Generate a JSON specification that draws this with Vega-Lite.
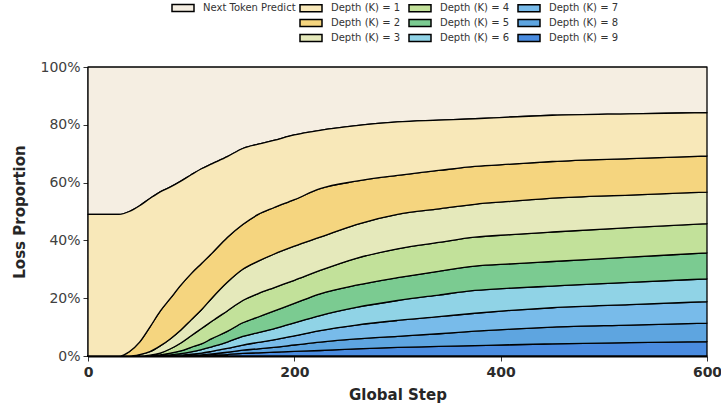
{
"$schema": "https://vega.github.io/schema/vega-lite/v6.json",
"width": 619, "height": 289,
"autosize": {"type": "none"},
"padding": {"left": 88, "top": 67, "right": 14, "bottom": 56},
"background": "white",
"config": {
  "font": "DejaVu Sans",
  "view": {"stroke": null},
  "legend": {"layout": {"top": {"anchor": "middle", "margin": 9}}}
},
"datasets": {"d": [
{"s":0,"o":0,"k":"Depth (K) = 9","v":0},{"s":0,"o":1,"k":"Depth (K) = 8","v":0},{"s":0,"o":2,"k":"Depth (K) = 7","v":0},{"s":0,"o":3,"k":"Depth (K) = 6","v":0},{"s":0,"o":4,"k":"Depth (K) = 5","v":0},{"s":0,"o":5,"k":"Depth (K) = 4","v":0},{"s":0,"o":6,"k":"Depth (K) = 3","v":0},{"s":0,"o":7,"k":"Depth (K) = 2","v":0},{"s":0,"o":8,"k":"Depth (K) = 1","v":49},{"s":0,"o":9,"k":"Next Token Predict","v":51},
{"s":30,"o":0,"k":"Depth (K) = 9","v":0},{"s":30,"o":1,"k":"Depth (K) = 8","v":0},{"s":30,"o":2,"k":"Depth (K) = 7","v":0},{"s":30,"o":3,"k":"Depth (K) = 6","v":0},{"s":30,"o":4,"k":"Depth (K) = 5","v":0},{"s":30,"o":5,"k":"Depth (K) = 4","v":0},{"s":30,"o":6,"k":"Depth (K) = 3","v":0},{"s":30,"o":7,"k":"Depth (K) = 2","v":0},{"s":30,"o":8,"k":"Depth (K) = 1","v":49},{"s":30,"o":9,"k":"Next Token Predict","v":51},
{"s":40,"o":0,"k":"Depth (K) = 9","v":0},{"s":40,"o":1,"k":"Depth (K) = 8","v":0},{"s":40,"o":2,"k":"Depth (K) = 7","v":0},{"s":40,"o":3,"k":"Depth (K) = 6","v":0},{"s":40,"o":4,"k":"Depth (K) = 5","v":0},{"s":40,"o":5,"k":"Depth (K) = 4","v":0},{"s":40,"o":6,"k":"Depth (K) = 3","v":0},{"s":40,"o":7,"k":"Depth (K) = 2","v":1.5},{"s":40,"o":8,"k":"Depth (K) = 1","v":48.5},{"s":40,"o":9,"k":"Next Token Predict","v":50},
{"s":50,"o":0,"k":"Depth (K) = 9","v":0},{"s":50,"o":1,"k":"Depth (K) = 8","v":0},{"s":50,"o":2,"k":"Depth (K) = 7","v":0},{"s":50,"o":3,"k":"Depth (K) = 6","v":0},{"s":50,"o":4,"k":"Depth (K) = 5","v":0},{"s":50,"o":5,"k":"Depth (K) = 4","v":0},{"s":50,"o":6,"k":"Depth (K) = 3","v":0.5},{"s":50,"o":7,"k":"Depth (K) = 2","v":4.3},{"s":50,"o":8,"k":"Depth (K) = 1","v":47.2},{"s":50,"o":9,"k":"Next Token Predict","v":48},
{"s":60,"o":0,"k":"Depth (K) = 9","v":0},{"s":60,"o":1,"k":"Depth (K) = 8","v":0},{"s":60,"o":2,"k":"Depth (K) = 7","v":0},{"s":60,"o":3,"k":"Depth (K) = 6","v":0},{"s":60,"o":4,"k":"Depth (K) = 5","v":0.1},{"s":60,"o":5,"k":"Depth (K) = 4","v":0.2},{"s":60,"o":6,"k":"Depth (K) = 3","v":1.2},{"s":60,"o":7,"k":"Depth (K) = 2","v":8.5},{"s":60,"o":8,"k":"Depth (K) = 1","v":44.5},{"s":60,"o":9,"k":"Next Token Predict","v":45.5},
{"s":70,"o":0,"k":"Depth (K) = 9","v":0},{"s":70,"o":1,"k":"Depth (K) = 8","v":0},{"s":70,"o":2,"k":"Depth (K) = 7","v":0},{"s":70,"o":3,"k":"Depth (K) = 6","v":0.1},{"s":70,"o":4,"k":"Depth (K) = 5","v":0.3},{"s":70,"o":5,"k":"Depth (K) = 4","v":0.6},{"s":70,"o":6,"k":"Depth (K) = 3","v":2.5},{"s":70,"o":7,"k":"Depth (K) = 2","v":12},{"s":70,"o":8,"k":"Depth (K) = 1","v":41.3},{"s":70,"o":9,"k":"Next Token Predict","v":43.2},
{"s":80,"o":0,"k":"Depth (K) = 9","v":0},{"s":80,"o":1,"k":"Depth (K) = 8","v":0},{"s":80,"o":2,"k":"Depth (K) = 7","v":0.1},{"s":80,"o":3,"k":"Depth (K) = 6","v":0.3},{"s":80,"o":4,"k":"Depth (K) = 5","v":0.6},{"s":80,"o":5,"k":"Depth (K) = 4","v":1.5},{"s":80,"o":6,"k":"Depth (K) = 3","v":3.5},{"s":80,"o":7,"k":"Depth (K) = 2","v":14},{"s":80,"o":8,"k":"Depth (K) = 1","v":38.5},{"s":80,"o":9,"k":"Next Token Predict","v":41.5},
{"s":90,"o":0,"k":"Depth (K) = 9","v":0},{"s":90,"o":1,"k":"Depth (K) = 8","v":0.1},{"s":90,"o":2,"k":"Depth (K) = 7","v":0.2},{"s":90,"o":3,"k":"Depth (K) = 6","v":0.5},{"s":90,"o":4,"k":"Depth (K) = 5","v":1.0},{"s":90,"o":5,"k":"Depth (K) = 4","v":2.7},{"s":90,"o":6,"k":"Depth (K) = 3","v":4.5},{"s":90,"o":7,"k":"Depth (K) = 2","v":15.5},{"s":90,"o":8,"k":"Depth (K) = 1","v":36},{"s":90,"o":9,"k":"Next Token Predict","v":39.5},
{"s":100,"o":0,"k":"Depth (K) = 9","v":0.05},{"s":100,"o":1,"k":"Depth (K) = 8","v":0.15},{"s":100,"o":2,"k":"Depth (K) = 7","v":0.4},{"s":100,"o":3,"k":"Depth (K) = 6","v":0.8},{"s":100,"o":4,"k":"Depth (K) = 5","v":1.6},{"s":100,"o":5,"k":"Depth (K) = 4","v":4.0},{"s":100,"o":6,"k":"Depth (K) = 3","v":5.5},{"s":100,"o":7,"k":"Depth (K) = 2","v":16},{"s":100,"o":8,"k":"Depth (K) = 1","v":34.2},{"s":100,"o":9,"k":"Next Token Predict","v":37.3},
{"s":110,"o":0,"k":"Depth (K) = 9","v":0.1},{"s":110,"o":1,"k":"Depth (K) = 8","v":0.3},{"s":110,"o":2,"k":"Depth (K) = 7","v":0.6},{"s":110,"o":3,"k":"Depth (K) = 6","v":1.2},{"s":110,"o":4,"k":"Depth (K) = 5","v":2.0},{"s":110,"o":5,"k":"Depth (K) = 4","v":5.3},{"s":110,"o":6,"k":"Depth (K) = 3","v":6.5},{"s":110,"o":7,"k":"Depth (K) = 2","v":16},{"s":110,"o":8,"k":"Depth (K) = 1","v":32.8},{"s":110,"o":9,"k":"Next Token Predict","v":35.2},
{"s":120,"o":0,"k":"Depth (K) = 9","v":0.3},{"s":120,"o":1,"k":"Depth (K) = 8","v":0.4},{"s":120,"o":2,"k":"Depth (K) = 7","v":0.9},{"s":120,"o":3,"k":"Depth (K) = 6","v":1.6},{"s":120,"o":4,"k":"Depth (K) = 5","v":2.8},{"s":120,"o":5,"k":"Depth (K) = 4","v":6},{"s":120,"o":6,"k":"Depth (K) = 3","v":8},{"s":120,"o":7,"k":"Depth (K) = 2","v":15.5},{"s":120,"o":8,"k":"Depth (K) = 1","v":31},{"s":120,"o":9,"k":"Next Token Predict","v":33.5},
{"s":135,"o":0,"k":"Depth (K) = 9","v":0.5},{"s":135,"o":1,"k":"Depth (K) = 8","v":0.8},{"s":135,"o":2,"k":"Depth (K) = 7","v":1.3},{"s":135,"o":3,"k":"Depth (K) = 6","v":2.2},{"s":135,"o":4,"k":"Depth (K) = 5","v":3.7},{"s":135,"o":5,"k":"Depth (K) = 4","v":7.1},{"s":135,"o":6,"k":"Depth (K) = 3","v":9.9},{"s":135,"o":7,"k":"Depth (K) = 2","v":15.5},{"s":135,"o":8,"k":"Depth (K) = 1","v":28},{"s":135,"o":9,"k":"Next Token Predict","v":31},
{"s":150,"o":0,"k":"Depth (K) = 9","v":0.9},{"s":150,"o":1,"k":"Depth (K) = 8","v":1.1},{"s":150,"o":2,"k":"Depth (K) = 7","v":1.8},{"s":150,"o":3,"k":"Depth (K) = 6","v":3.0},{"s":150,"o":4,"k":"Depth (K) = 5","v":4.7},{"s":150,"o":5,"k":"Depth (K) = 4","v":7.7},{"s":150,"o":6,"k":"Depth (K) = 3","v":10.8},{"s":150,"o":7,"k":"Depth (K) = 2","v":15.5},{"s":150,"o":8,"k":"Depth (K) = 1","v":26.3},{"s":150,"o":9,"k":"Next Token Predict","v":28.2},
{"s":165,"o":0,"k":"Depth (K) = 9","v":1.1},{"s":165,"o":1,"k":"Depth (K) = 8","v":1.4},{"s":165,"o":2,"k":"Depth (K) = 7","v":2.2},{"s":165,"o":3,"k":"Depth (K) = 6","v":3.4},{"s":165,"o":4,"k":"Depth (K) = 5","v":5.4},{"s":165,"o":5,"k":"Depth (K) = 4","v":8.1},{"s":165,"o":6,"k":"Depth (K) = 3","v":11.2},{"s":165,"o":7,"k":"Depth (K) = 2","v":16.2},{"s":165,"o":8,"k":"Depth (K) = 1","v":24.3},{"s":165,"o":9,"k":"Next Token Predict","v":26.7},
{"s":180,"o":0,"k":"Depth (K) = 9","v":1.3},{"s":180,"o":1,"k":"Depth (K) = 8","v":1.7},{"s":180,"o":2,"k":"Depth (K) = 7","v":2.6},{"s":180,"o":3,"k":"Depth (K) = 6","v":3.8},{"s":180,"o":4,"k":"Depth (K) = 5","v":6.1},{"s":180,"o":5,"k":"Depth (K) = 4","v":8.1},{"s":180,"o":6,"k":"Depth (K) = 3","v":11.6},{"s":180,"o":7,"k":"Depth (K) = 2","v":16.1},{"s":180,"o":8,"k":"Depth (K) = 1","v":23.3},{"s":180,"o":9,"k":"Next Token Predict","v":25.4},
{"s":200,"o":0,"k":"Depth (K) = 9","v":1.6},{"s":200,"o":1,"k":"Depth (K) = 8","v":2.2},{"s":200,"o":2,"k":"Depth (K) = 7","v":3.2},{"s":200,"o":3,"k":"Depth (K) = 6","v":4.5},{"s":200,"o":4,"k":"Depth (K) = 5","v":6.7},{"s":200,"o":5,"k":"Depth (K) = 4","v":8.0},{"s":200,"o":6,"k":"Depth (K) = 3","v":11.8},{"s":200,"o":7,"k":"Depth (K) = 2","v":16.1},{"s":200,"o":8,"k":"Depth (K) = 1","v":22.4},{"s":200,"o":9,"k":"Next Token Predict","v":23.5},
{"s":225,"o":0,"k":"Depth (K) = 9","v":1.9},{"s":225,"o":1,"k":"Depth (K) = 8","v":2.9},{"s":225,"o":2,"k":"Depth (K) = 7","v":4.0},{"s":225,"o":3,"k":"Depth (K) = 6","v":5.2},{"s":225,"o":4,"k":"Depth (K) = 5","v":7.5},{"s":225,"o":5,"k":"Depth (K) = 4","v":8.1},{"s":225,"o":6,"k":"Depth (K) = 3","v":11.5},{"s":225,"o":7,"k":"Depth (K) = 2","v":16.8},{"s":225,"o":8,"k":"Depth (K) = 1","v":20.2},{"s":225,"o":9,"k":"Next Token Predict","v":21.9},
{"s":260,"o":0,"k":"Depth (K) = 9","v":2.5},{"s":260,"o":1,"k":"Depth (K) = 8","v":3.4},{"s":260,"o":2,"k":"Depth (K) = 7","v":4.8},{"s":260,"o":3,"k":"Depth (K) = 6","v":6.1},{"s":260,"o":4,"k":"Depth (K) = 5","v":7.7},{"s":260,"o":5,"k":"Depth (K) = 4","v":9.3},{"s":260,"o":6,"k":"Depth (K) = 3","v":11.7},{"s":260,"o":7,"k":"Depth (K) = 2","v":15},{"s":260,"o":8,"k":"Depth (K) = 1","v":19.2},{"s":260,"o":9,"k":"Next Token Predict","v":20.3},
{"s":300,"o":0,"k":"Depth (K) = 9","v":3.0},{"s":300,"o":1,"k":"Depth (K) = 8","v":3.8},{"s":300,"o":2,"k":"Depth (K) = 7","v":5.5},{"s":300,"o":3,"k":"Depth (K) = 6","v":6.9},{"s":300,"o":4,"k":"Depth (K) = 5","v":7.9},{"s":300,"o":5,"k":"Depth (K) = 4","v":10},{"s":300,"o":6,"k":"Depth (K) = 3","v":11.9},{"s":300,"o":7,"k":"Depth (K) = 2","v":13.5},{"s":300,"o":8,"k":"Depth (K) = 1","v":18.5},{"s":300,"o":9,"k":"Next Token Predict","v":19},
{"s":340,"o":0,"k":"Depth (K) = 9","v":3.3},{"s":340,"o":1,"k":"Depth (K) = 8","v":4.4},{"s":340,"o":2,"k":"Depth (K) = 7","v":5.9},{"s":340,"o":3,"k":"Depth (K) = 6","v":7.5},{"s":340,"o":4,"k":"Depth (K) = 5","v":8.2},{"s":340,"o":5,"k":"Depth (K) = 4","v":10},{"s":340,"o":6,"k":"Depth (K) = 3","v":11.6},{"s":340,"o":7,"k":"Depth (K) = 2","v":13.3},{"s":340,"o":8,"k":"Depth (K) = 1","v":17.4},{"s":340,"o":9,"k":"Next Token Predict","v":18.4},
{"s":375,"o":0,"k":"Depth (K) = 9","v":3.6},{"s":375,"o":1,"k":"Depth (K) = 8","v":5.0},{"s":375,"o":2,"k":"Depth (K) = 7","v":6.2},{"s":375,"o":3,"k":"Depth (K) = 6","v":7.9},{"s":375,"o":4,"k":"Depth (K) = 5","v":8.4},{"s":375,"o":5,"k":"Depth (K) = 4","v":10},{"s":375,"o":6,"k":"Depth (K) = 3","v":11.4},{"s":375,"o":7,"k":"Depth (K) = 2","v":13.1},{"s":375,"o":8,"k":"Depth (K) = 1","v":16.5},{"s":375,"o":9,"k":"Next Token Predict","v":17.9},
{"s":410,"o":0,"k":"Depth (K) = 9","v":3.9},{"s":410,"o":1,"k":"Depth (K) = 8","v":5.4},{"s":410,"o":2,"k":"Depth (K) = 7","v":6.5},{"s":410,"o":3,"k":"Depth (K) = 6","v":7.7},{"s":410,"o":4,"k":"Depth (K) = 5","v":8.4},{"s":410,"o":5,"k":"Depth (K) = 4","v":10.1},{"s":410,"o":6,"k":"Depth (K) = 3","v":11.5},{"s":410,"o":7,"k":"Depth (K) = 2","v":12.9},{"s":410,"o":8,"k":"Depth (K) = 1","v":16.3},{"s":410,"o":9,"k":"Next Token Predict","v":17.3},
{"s":450,"o":0,"k":"Depth (K) = 9","v":4.2},{"s":450,"o":1,"k":"Depth (K) = 8","v":5.8},{"s":450,"o":2,"k":"Depth (K) = 7","v":6.7},{"s":450,"o":3,"k":"Depth (K) = 6","v":7.5},{"s":450,"o":4,"k":"Depth (K) = 5","v":8.5},{"s":450,"o":5,"k":"Depth (K) = 4","v":10.2},{"s":450,"o":6,"k":"Depth (K) = 3","v":11.7},{"s":450,"o":7,"k":"Depth (K) = 2","v":12.7},{"s":450,"o":8,"k":"Depth (K) = 1","v":16.0},{"s":450,"o":9,"k":"Next Token Predict","v":16.7},
{"s":525,"o":0,"k":"Depth (K) = 9","v":4.6},{"s":525,"o":1,"k":"Depth (K) = 8","v":6.1},{"s":525,"o":2,"k":"Depth (K) = 7","v":7.1},{"s":525,"o":3,"k":"Depth (K) = 6","v":7.7},{"s":525,"o":4,"k":"Depth (K) = 5","v":8.7},{"s":525,"o":5,"k":"Depth (K) = 4","v":10.2},{"s":525,"o":6,"k":"Depth (K) = 3","v":11.3},{"s":525,"o":7,"k":"Depth (K) = 2","v":12.6},{"s":525,"o":8,"k":"Depth (K) = 1","v":15.5},{"s":525,"o":9,"k":"Next Token Predict","v":16.2},
{"s":600,"o":0,"k":"Depth (K) = 9","v":5.0},{"s":600,"o":1,"k":"Depth (K) = 8","v":6.4},{"s":600,"o":2,"k":"Depth (K) = 7","v":7.4},{"s":600,"o":3,"k":"Depth (K) = 6","v":7.9},{"s":600,"o":4,"k":"Depth (K) = 5","v":9.0},{"s":600,"o":5,"k":"Depth (K) = 4","v":10.1},{"s":600,"o":6,"k":"Depth (K) = 3","v":10.9},{"s":600,"o":7,"k":"Depth (K) = 2","v":12.5},{"s":600,"o":8,"k":"Depth (K) = 1","v":15.0},{"s":600,"o":9,"k":"Next Token Predict","v":15.8}
]},
"data": {"name": "d"},
"transform": [
  {"stack": "v", "groupby": ["s"], "sort": [{"field": "o", "order": "ascending"}], "offset": "normalize", "as": ["y0", "y1"]}
],
"encoding": {
  "x": {"field": "s", "type": "quantitative", "scale": {"domain": [0, 600], "nice": false, "zero": false},
    "axis": {"title": "Global Step", "values": [0, 200, 400, 600], "grid": false, "labelFlush": false,
      "labelFontSize": 14, "labelFontWeight": "bold", "labelColor": "#2b2b2b", "labelPadding": 4,
      "tickSize": 5, "tickColor": "#333333", "tickWidth": 1, "domainColor": "#000000", "domainWidth": 2,
      "titleFontSize": 15, "titleFontWeight": "bold", "titleColor": "#262626", "titlePadding": 8}},
  "y": {"field": "y0", "type": "quantitative", "scale": {"domain": [0, 1], "nice": false},
    "axis": {"title": "Loss Proportion", "values": [0, 0.2, 0.4, 0.6, 0.8, 1], "format": ".0%", "grid": false,
      "labelFontSize": 14, "labelColor": "#404040", "labelPadding": 3,
      "tickSize": 5, "tickColor": "#333333", "tickWidth": 1, "domainColor": "#000000", "domainWidth": 2,
      "titleFontSize": 15, "titleFontWeight": "bold", "titleColor": "#262626", "titlePadding": 12}},
  "y2": {"field": "y1"}
},
"layer": [
  {"transform": [{"filter": "datum.o == 9"}],
   "mark": {"type": "area", "interpolate": "monotone", "stroke": "#000000", "strokeWidth": 1.3, "strokeJoin": "round", "opacity": 1, "fillOpacity": 1},
   "encoding": {"fill": {"field": "k", "type": "nominal",
     "scale": {"domain": ["Next Token Predict"], "range": ["#f5eee2"]},
     "legend": {"orient": "top", "title": null, "offset": 21, "rowPadding": 1, "symbolType": "M-2.2,-0.7H2.2V0.7H-2.2Z", "symbolSize": 100,
       "symbolStrokeColor": "#000000", "symbolStrokeWidth": 1.5, "symbolOpacity": 1, "labelFontSize": 10, "labelColor": "#333333", "labelOffset": 14}}}},
  {"transform": [{"filter": "datum.o < 9"}],
   "mark": {"type": "area", "interpolate": "monotone", "stroke": "#000000", "strokeWidth": 1.3, "strokeJoin": "round", "opacity": 1, "fillOpacity": 1},
   "encoding": {"fill": {"field": "k", "type": "nominal",
     "scale": {"domain": ["Depth (K) = 1", "Depth (K) = 4", "Depth (K) = 7", "Depth (K) = 2", "Depth (K) = 5", "Depth (K) = 8", "Depth (K) = 3", "Depth (K) = 6", "Depth (K) = 9"],
               "range": ["#f8e8b9", "#c2e19a", "#78bbea", "#f5d57f", "#7bcb91", "#5ea5e0", "#e5e9bb", "#90d3e6", "#4a8ce0"]},
     "legend": {"orient": "top", "title": null, "offset": 21, "columns": 3, "columnPadding": 5, "rowPadding": 1,
       "symbolType": "M-2.2,-0.7H2.2V0.7H-2.2Z", "symbolSize": 100,
       "symbolStrokeColor": "#000000", "symbolStrokeWidth": 1.5, "symbolOpacity": 1, "labelFontSize": 10, "labelColor": "#333333", "labelOffset": 14}}}}
],
"resolve": {"scale": {"fill": "independent"}, "legend": {"fill": "independent"}}
}
